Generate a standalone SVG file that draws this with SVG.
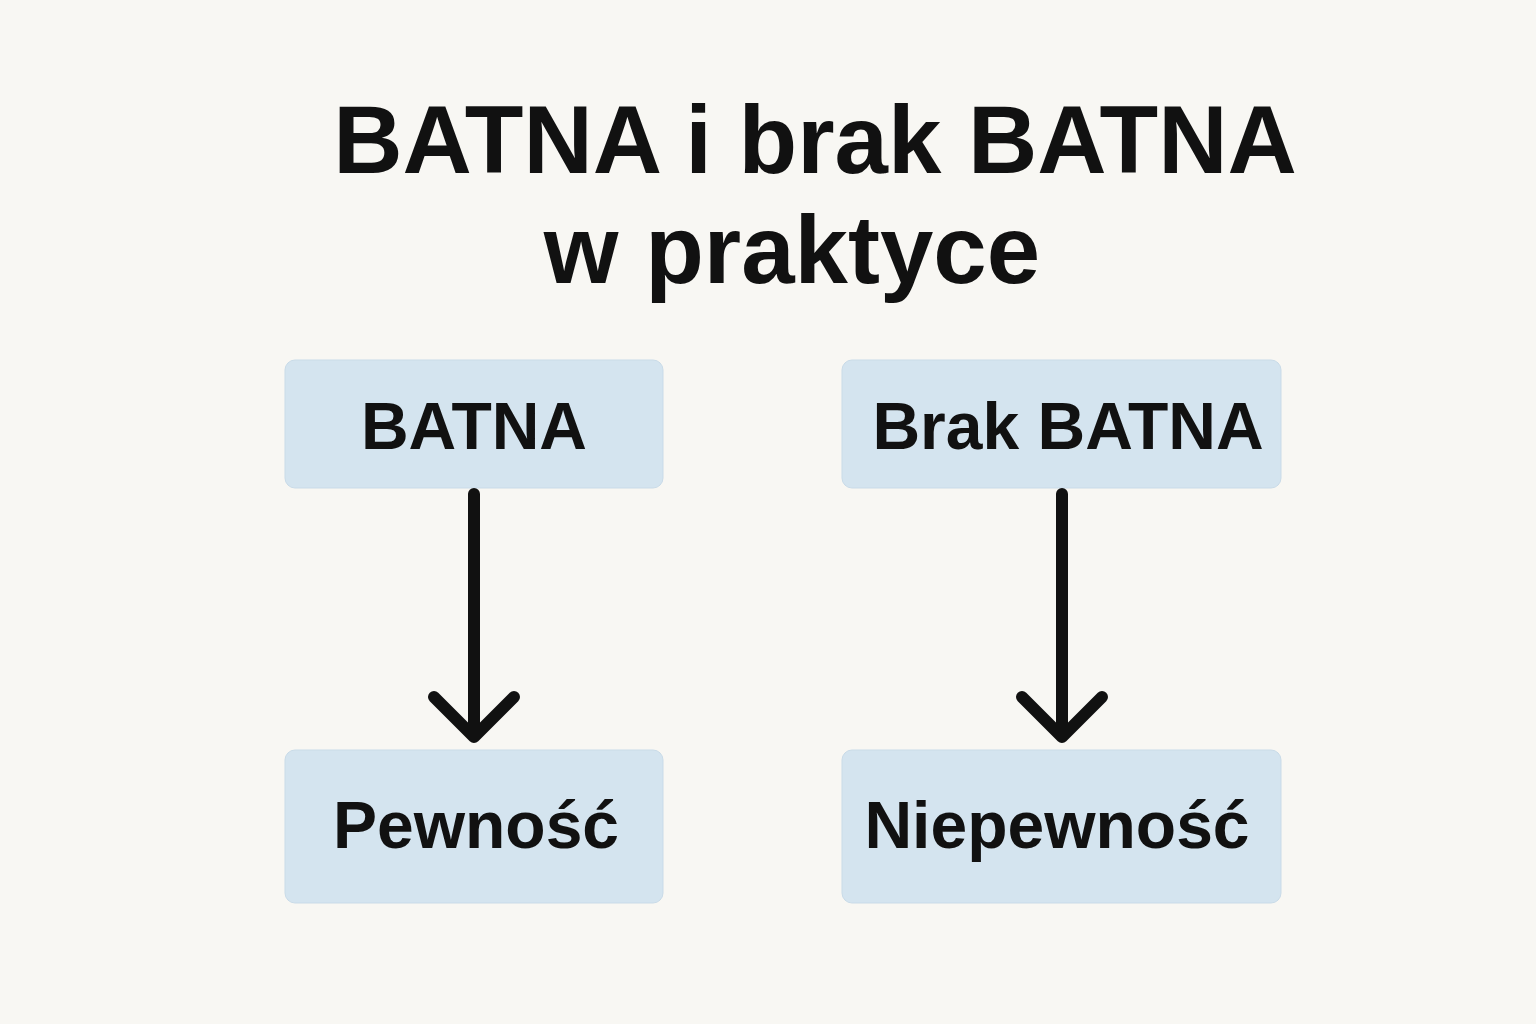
<svg xmlns="http://www.w3.org/2000/svg" width="1536" height="1024" viewBox="0 0 1536 1024">
<style>
.t{font-family:"Liberation Sans","DejaVu Sans",sans-serif;font-weight:bold;fill:#111;text-anchor:middle}
.box{fill:#d4e4ef;stroke:#c9dbe8;stroke-width:1}
.lbl{font-size:66px}
.c{stroke:#111;stroke-width:12;fill:none;stroke-linecap:round;stroke-linejoin:round}
</style>
<rect width="1536" height="1024" fill="#f8f7f3"/>
<text class="t" x="815" y="173" font-size="96">BATNA i brak BATNA</text>
<text class="t" x="792" y="283" font-size="96">w praktyce</text>
<g id="n1"><rect class="box" x="285" y="360" width="378" height="128" rx="10"/><text class="t lbl" x="474" y="449">BATNA</text></g>
<g id="n2"><rect class="box" x="842" y="360" width="439" height="128" rx="10"/><text class="t lbl" x="1068" y="449">Brak BATNA</text></g>
<g id="n3"><rect class="box" x="285" y="750" width="378" height="153" rx="10"/><text class="t lbl" x="476" y="848">Pewność</text></g>
<g id="n4"><rect class="box" x="842" y="750" width="439" height="153" rx="10"/><text class="t lbl" x="1057" y="848">Niepewność</text></g>
<g id="connectors">
<path class="c" d="M474 494V736M434 697L474 737L514 697" stroke-linecap="butt"/>
<path class="c" d="M1062 494V736M1022 697L1062 737L1102 697"/>
</g>
</svg>
